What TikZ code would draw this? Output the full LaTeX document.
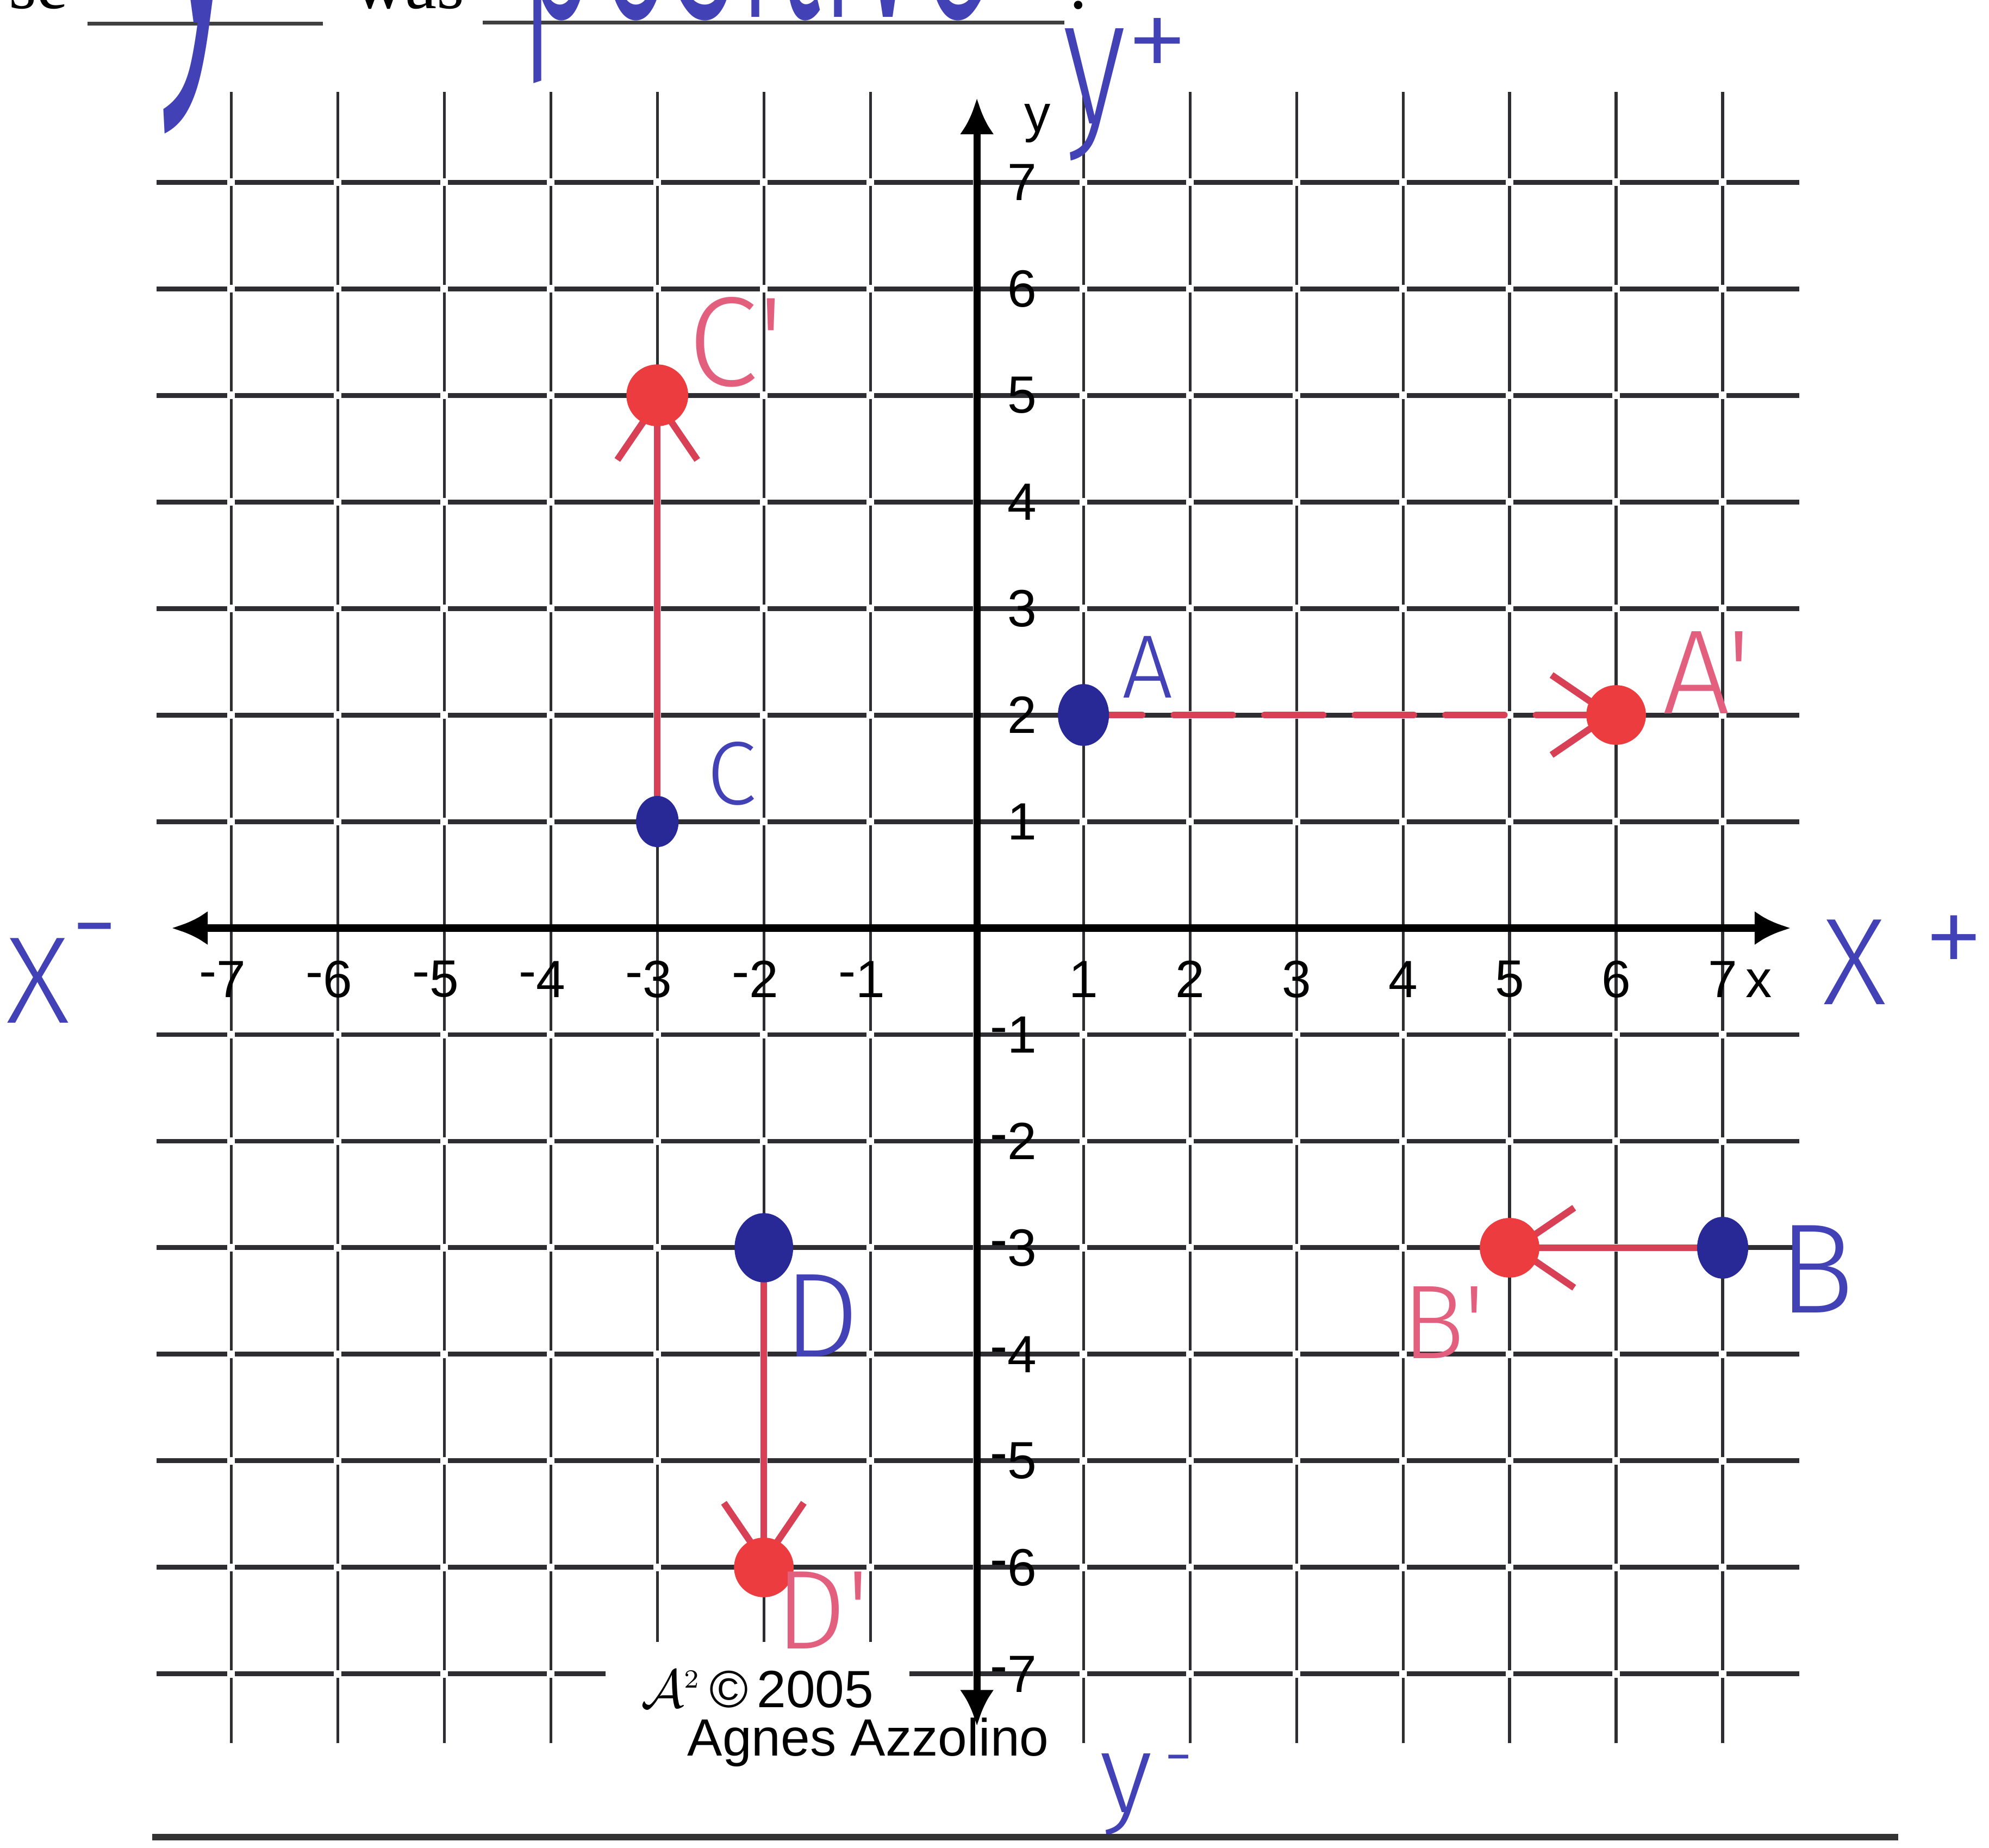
\documentclass[tikz,border=0pt]{standalone}
\usepackage{fontspec}
\setmainfont{Liberation Sans}
\newfontfamily\sheetserif{Liberation Serif}
\newfontfamily\handfont{Fira Sans Light}
\usepackage{graphicx}
\usetikzlibrary{arrows.meta, positioning, shapes.geometric, calc}
\definecolor{inkblue}{RGB}{66,66,182}
\definecolor{dotblue}{RGB}{40,40,150}
\definecolor{dotred}{RGB}{236,60,64}
\definecolor{inkred}{RGB}{216,64,86}
\definecolor{inkpink}{RGB}{226,96,126}
\definecolor{gridink}{RGB}{45,45,50}
\newcommand{\mn}{\llap{\raisebox{0.3ex}{-}}}
\tikzset{
  gridh/.style={gridink, line width=1.3pt},
  gridv/.style={gridink, line width=0.75pt},
  axisline/.style={black, line width=1.9pt, {Latex[length=3.4mm, width=3.2mm]}-{Latex[length=3.4mm, width=3.2mm]}},
  xtick/.style={font=\fontsize{14}{14}\selectfont, inner sep=0pt},
  ytick/.style={font=\fontsize{14}{14}\selectfont, inner sep=0pt, anchor=west},
  bluedot/.style={ellipse, fill=dotblue, minimum width=0.48cm, minimum height=0.58cm, inner sep=0pt},
  reddot/.style={circle, fill=dotred, minimum size=0.56cm, inner sep=0pt},
  move/.style={inkred, line width=1.8pt, line cap=round, -{Straight Barb[length=5.5mm, width=7.5mm]}},
  bluehand/.style={inkblue, font=\handfont\fontsize{28}{28}\selectfont, inner sep=0pt},
  pinkhand/.style={inkpink, font=\handfont\fontsize{30}{30}\selectfont, inner sep=0pt},
  sheettext/.style={font=\sheetserif\fontsize{19}{19}\selectfont, inner sep=0pt, anchor=base},
  sheetrule/.style={black!75, line width=1pt},
  credit/.style={font=\fontsize{14}{14}\selectfont, fill=white}
}

\begin{document}
\begin{tikzpicture}
  \useasboundingbox (-9.17,-8.63) rectangle (9.50,8.71);
  \clip (-9.17,-8.63) rectangle (9.50,8.71);

  \foreach \k in {-7,...,7}{
    \ifnum\k=0\relax\else
      \draw[gridh] (-7.7,\k) -- (7.72,\k);
      \draw[gridv] (\k,-7.65) -- (\k,7.85);
    \fi}
  \foreach \i in {-7,...,7}
    \foreach \j in {-7,...,7}
      \fill[white] (\i-0.035,\j-0.035) rectangle ++(0.07,0.07);

  \node[credit, minimum width=2.85cm, minimum height=1.0cm] (stamp) at (-2.06,-7.2)
    {\raisebox{0.12cm}{$\mathcal{A}^{\scriptscriptstyle 2}$\,©\,2005}};
  \node[credit, inner sep=1pt, anchor=base] (author) at (-1.02,-7.77) {Agnes Azzolino};

  \coordinate (xmin) at (-7.56,0);
  \coordinate (xmax) at (7.64,0);
  \coordinate (ymin) at (0,-7.49);
  \coordinate (ymax) at (0,7.79);
  \draw[axisline] (xmin) -- (xmax);
  \draw[axisline] (ymin) -- (ymax);

  \foreach \k in {1,...,6}
    \node[xtick] (xp\k) at (\k,-0.48) {\k};
  \node[xtick] (xp7) at (7,-0.48) {7\rlap{\,x}};
  \foreach \k in {1,...,7}{
    \node[xtick] (xn\k) at (-\k,-0.48) {\mn\k};
    \node[ytick] (yp\k) at (0.28,\k) {\k};
    \node[ytick] (yn\k) at (0.28,-\k) {\mn\k};
  }
  \node[ytick] (ylab) at (0.44,7.55) {y};

  \coordinate (A) at (1,2);
  \coordinate (Ap) at (6,2);
  \coordinate (B) at (7,-3);
  \coordinate (Bp) at (5,-3);
  \coordinate (C) at (-3,1);
  \coordinate (Cp) at (-3,5);
  \coordinate (D) at (-2,-3);
  \coordinate (Dp) at (-2,-6);

  \draw[move, dash pattern=on 5.5mm off 3mm] (A) -- (Ap);
  \draw[move] (B) -- (Bp);
  \draw[move] (C) -- (Cp);
  \draw[move] (D) -- (Dp);

  \node[bluedot] (Adot) at (A) {};
  \node[bluedot] (Bdot) at (B) {};
  \node[bluedot, minimum width=0.4cm, minimum height=0.48cm] (Cdot) at (C) {};
  \node[bluedot, minimum width=0.55cm, minimum height=0.65cm] (Ddot) at (D) {};
  \node[reddot] (Apdot) at (Ap) {};
  \node[reddot] (Bpdot) at (Bp) {};
  \node[reddot, minimum size=0.58cm] (Cpdot) at (Cp) {};
  \node[reddot] (Dpdot) at (Dp) {};

  \node[bluehand, font=\handfont\fontsize{24}{24}\selectfont] (labA) at (1.6,2.45) {A};
  \node[bluehand, font=\handfont\fontsize{34}{34}\selectfont] (labB) at (7.88,-3.2) {B};
  \node[bluehand, font=\handfont\fontsize{24}{24}\selectfont] (labC) at (-2.3,1.45) {C};
  \node[bluehand, font=\handfont\fontsize{32}{32}\selectfont] (labD) at (-1.46,-3.64) {D};
  \node[pinkhand, font=\handfont\fontsize{32}{32}\selectfont] (labAp) at (6.85,2.4) {A'};
  \node[pinkhand, font=\handfont\fontsize{28}{28}\selectfont] (labBp) at (4.38,-3.7) {B'};
  \node[pinkhand, font=\handfont\fontsize{34}{34}\selectfont] (labCp) at (-2.26,5.5) {C'};
  \node[pinkhand, font=\handfont\fontsize{30}{30}\selectfont] (labDp) at (-1.45,-6.4) {D'};

  \node[bluehand, font=\handfont\fontsize{33}{33}\selectfont] (xneg) at (-8.58,-0.42) {X\raisebox{0.9ex}{-}};
  \node[bluehand, font=\handfont\fontsize{33}{33}\selectfont] (xpos) at (8.7,-0.3) {X\hspace{0.35cm}\raisebox{0.4ex}{+}};
  \node[bluehand, font=\handfont\fontsize{36}{36}\selectfont, anchor=base west] (ypos) at (0.8,7.55)
    {\scalebox{1}[1.35]{y}\raisebox{0.38cm}{\fontsize{34}{34}\selectfont+}};
  \node[bluehand, font=\handfont\fontsize{30}{30}\selectfont, anchor=base west] (yneg) at (1.15,-8.3)
    {y\hspace{0.1cm}\raisebox{0.3cm}{\fontsize{20}{20}\selectfont-}};

  \node[sheettext, anchor=base east] (lead) at (-8.52,8.63) {se};
  \node[sheettext] (was) at (-5.33,8.63) {was};
  \node[sheettext, anchor=base west] (stop) at (0.86,8.63) {.};
  \draw[sheetrule] (-8.35,8.49) -- (-6.14,8.49);
  \draw[sheetrule] (-4.64,8.5) -- (0.82,8.5);
  \node[inkblue, anchor=base, inner sep=0pt] (answer1) at (-7.28,8.5)
    {\scalebox{1}[2.6]{\handfont\fontsize{56}{56}\selectfont y}};
  \node[inkblue, anchor=base west, inner sep=0pt] (answer2) at (-4.3,8.55)
    {\scalebox{1}[2.4]{\handfont\fontsize{36}{36}\selectfont positive}};

  \coordinate (rulel) at (-7.74,-8.53);
  \coordinate (ruler) at (8.65,-8.53);
  \draw[black!80, line width=1.8pt] (rulel) -- (ruler);
\end{tikzpicture}
\end{document}
